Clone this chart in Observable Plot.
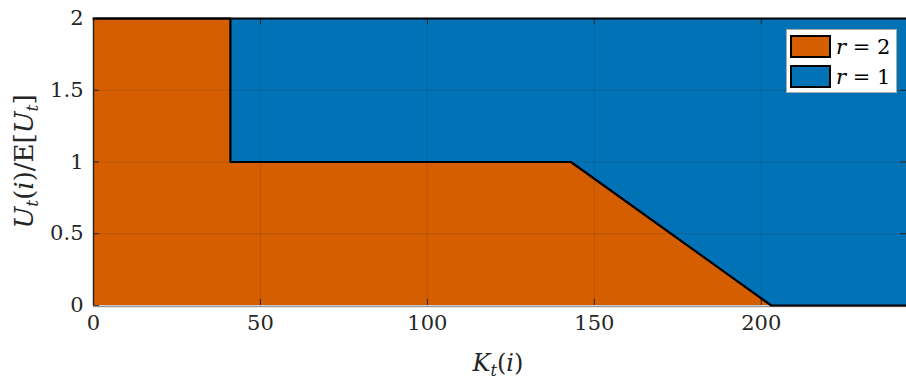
<!DOCTYPE html>
<html><head><meta charset="utf-8">
<script src="https://cdn.jsdelivr.net/npm/d3@7"></script>
<script src="https://cdn.jsdelivr.net/npm/@observablehq/plot@0.6"></script>
<style>
body{margin:0;background:#fff;}
#wrap{position:relative;width:906px;height:381px;overflow:hidden;font-family:'DejaVu Serif',serif;color:#262626;}
.lab{position:absolute;font-family:'DejaVu Serif',serif;font-size:24px;white-space:nowrap;color:#262626;}
.lab i{font-style:italic;}
.lab sub{font-size:16px;vertical-align:-5px;}
#ylab{font-size:26px;}
#ylab sub{font-size:17px;}
#legend{position:absolute;left:786px;top:29px;width:111px;height:64px;background:#fff;border:1px solid #aaa;box-sizing:border-box;}
.li{position:absolute;left:3px;height:25px;display:flex;align-items:center;font-size:21px;font-family:'DejaVu Serif',serif;color:#000;}
.sw{width:41px;height:23px;border:2px solid #000;box-sizing:border-box;margin-right:5px;}
</style></head><body><div id="wrap"></div>
<script>
// Region boundary between r = 2 (below/left) and r = 1 (above/right)
const boundaryX = [0, 41, 41, 143, 203, 243.5];
const boundaryY = [2, 2, 1, 1, 0, 0];
const xTicks = [0, 50, 100, 150, 200];
const yTicks = [0, 0.5, 1, 1.5, 2];
const yTickLabels = ["0", "0.5", "1", "1.5", "2"];
const seriesLabels = ["r = 2", "r = 1"];
const seriesValues = ["2", "1"];
const seriesColors = ["#D55E00", "#0072B5"];
const xMax = 243.5, yMax = 2;

const table = boundaryX.map((x, i) => ({x, y: boundaryY[i]}));
const axisColor = "#262626";
const tickLenX = 1.8;      // in x units
const tickLenY = 0.042;    // in y units

const plot = Plot.plot({
  width: 906,
  height: 381,
  marginLeft: 93,
  marginRight: 0,
  marginTop: 18,
  marginBottom: 76,
  x: {domain: [0, xMax]},
  y: {domain: [0, yMax]},
  style: {fontFamily: "'DejaVu Serif', serif", fontSize: "21px", color: axisColor, background: "transparent"},
  marks: [
    Plot.areaY(table, {x: "x", y1: 0, y2: "y", fill: seriesColors[0]}),
    Plot.areaY(table, {x: "x", y1: "y", y2: yMax, fill: seriesColors[1]}),
    Plot.ruleX(xTicks, {stroke: axisColor, strokeOpacity: 0.15, strokeWidth: 1}),
    Plot.ruleY(yTicks, {stroke: axisColor, strokeOpacity: 0.15, strokeWidth: 1}),
    Plot.ruleX(xTicks, {y1: 0, y2: tickLenY, stroke: axisColor, strokeWidth: 1}),
    Plot.ruleX(xTicks, {y1: yMax - tickLenY, y2: yMax, stroke: axisColor, strokeWidth: 1}),
    Plot.ruleY(yTicks, {x1: 0, x2: tickLenX, stroke: axisColor, strokeWidth: 1}),
    Plot.ruleY(yTicks, {x1: xMax - tickLenX, x2: xMax, stroke: axisColor, strokeWidth: 1}),
    Plot.ruleX([0], {stroke: axisColor, strokeWidth: 1.5}),
    Plot.ruleY([0], {stroke: "#999", strokeWidth: 1.5, dy: 1}),
    Plot.line(table, {x: "x", y: "y", stroke: "#000", strokeWidth: 2.2}),
    Plot.ruleY([yMax], {stroke: "#000", strokeWidth: 2}),
    Plot.axisX({ticks: xTicks, tickSize: 0, tickPadding: 10, fontSize: 21, tickFormat: d => String(d), label: null}),
    Plot.axisY({ticks: yTicks, tickSize: 0, tickPadding: 10, fontSize: 21, tickFormat: d => yTickLabels[yTicks.indexOf(d)], label: null})
  ]
});
const wrap = document.getElementById("wrap");
wrap.appendChild(plot);

// Axis labels
const xl = document.createElement("div");
xl.className = "lab";
xl.innerHTML = "<i>K</i><sub><i>t</i></sub>(<i>i</i>)";
wrap.appendChild(xl);
xl.style.left = (498 - xl.offsetWidth / 2) + "px";
xl.style.top = "349px";

const yl = document.createElement("div");
yl.className = "lab";
yl.id = "ylab";
yl.innerHTML = "<i>U</i><sub><i>t</i></sub>(<i>i</i>)/E[<i>U</i><sub><i>t</i></sub>]";
wrap.appendChild(yl);
const w = yl.offsetWidth, h = yl.offsetHeight;
yl.style.left = (25 - w / 2) + "px";
yl.style.top = (161 - h / 2) + "px";
yl.style.transform = "rotate(-90deg)";

// Legend
const lg = document.createElement("div");
lg.id = "legend";
seriesLabels.forEach((s, i) => {
  const row = document.createElement("div");
  row.className = "li";
  row.style.top = (4 + i * 30) + "px";
  row.innerHTML = `<div class="sw" style="background:${seriesColors[i]}"></div><span><i>r</i> = ${seriesValues[i]}</span>`;
  lg.appendChild(row);
});
wrap.appendChild(lg);
</script></body></html>
